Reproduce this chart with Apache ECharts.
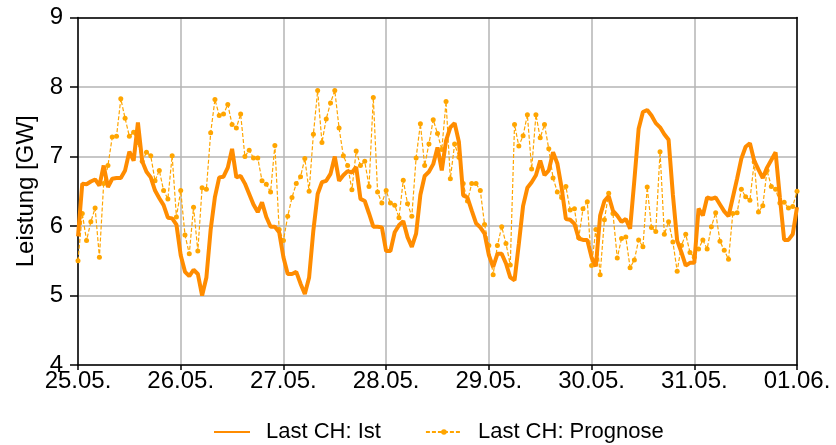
<!DOCTYPE html>
<html>
<head>
<meta charset="utf-8">
<script src="https://cdn.jsdelivr.net/npm/echarts@6/dist/echarts.min.js"></script>
<style>html,body{margin:0;padding:0;background:#fff}#c{width:836px;height:445px}</style>
</head>
<body>
<div id="c"></div>
<script>
const dayLabels = ['25.05.','26.05.','27.05.','28.05.','29.05.','30.05.','31.05.','01.06.'];
const yTicks = [4,5,6,7,8,9];
const istName = 'Last CH: Ist';
const progName = 'Last CH: Prognose';
// hourly values, 25.05. 00:00 .. 01.06. 00:00
const ist = [
5.85,6.61,6.60,6.64,6.67,6.58,6.87,6.56,6.68,6.69,6.69,6.80,7.07,6.94,7.49,6.93,6.78,6.70,6.51,6.40,6.30,6.12,6.11,6.02,
5.58,5.34,5.28,5.37,5.31,5.00,5.26,5.95,6.42,6.70,6.71,6.84,7.11,6.70,6.72,6.61,6.46,6.31,6.20,6.34,6.13,5.99,5.99,5.91,
5.55,5.31,5.31,5.34,5.17,5.02,5.26,5.94,6.46,6.63,6.65,6.75,7.00,6.65,6.73,6.79,6.77,6.85,6.39,6.36,6.18,5.99,5.99,5.98,
5.64,5.64,5.91,6.01,6.07,5.84,5.70,5.89,6.45,6.72,6.78,6.89,7.13,6.80,7.23,7.42,7.48,7.21,6.44,6.41,6.22,6.04,5.98,5.89,
5.58,5.41,5.60,5.60,5.46,5.26,5.22,5.74,6.29,6.55,6.63,6.73,6.94,6.73,6.80,7.06,6.90,6.55,6.10,6.09,6.03,5.82,5.80,5.80,
5.55,5.42,6.15,6.36,6.43,6.22,6.15,6.06,6.10,5.96,6.66,7.40,7.64,7.67,7.59,7.48,7.42,7.32,7.24,6.45,5.79,5.62,5.43,5.47,
5.47,6.25,6.15,6.41,6.39,6.41,6.31,6.21,6.14,6.41,6.68,6.97,7.14,7.19,6.94,6.81,6.69,6.84,6.95,7.06,6.41,5.80,5.80,5.88,
6.27];
const prognose = [
5.50,6.18,5.79,6.06,6.26,5.55,6.61,6.87,7.28,7.29,7.83,7.55,7.29,7.35,7.20,6.93,7.06,7.01,6.65,6.80,6.51,6.39,7.01,6.13,
6.51,5.87,5.60,6.27,5.64,6.55,6.53,7.34,7.82,7.59,7.61,7.75,7.46,7.41,7.61,7.00,7.09,6.98,6.98,6.65,6.60,6.49,7.16,5.95,
5.79,6.14,6.41,6.61,6.71,6.97,6.50,7.32,7.95,7.20,7.54,7.77,7.95,7.41,7.01,6.87,6.52,7.08,6.87,6.93,6.57,7.85,6.49,6.33,
6.51,6.33,6.30,6.12,6.66,6.32,6.14,6.98,7.47,6.87,7.18,7.53,7.33,7.10,7.79,6.68,7.18,6.99,6.61,6.36,6.61,6.61,6.51,6.02,
5.72,5.30,5.72,5.99,5.75,5.44,7.46,7.15,7.30,7.60,6.82,7.60,7.27,7.46,7.11,6.69,6.49,6.41,6.57,6.23,6.25,5.83,6.25,6.35,
5.43,5.95,5.30,6.09,6.47,6.18,5.54,5.82,5.84,5.40,5.51,5.80,5.70,6.56,5.98,5.92,7.07,5.88,6.06,5.77,5.35,5.72,5.88,5.62,
5.55,5.67,5.80,5.67,5.99,6.19,5.78,5.65,5.52,6.18,6.19,6.53,6.42,6.37,6.92,6.20,6.29,6.80,6.57,6.53,6.33,6.34,6.26,6.28,
6.50];

const toPairs = arr => arr.map((v, i) => [i, v]);
const font = 'Liberation Sans, Arial, sans-serif';
const chart = echarts.init(document.getElementById('c'), null, {renderer: 'canvas'});
chart.setOption({
  animation: false,
  backgroundColor: '#fff',
  grid: {left: 78, right: 39, top: 17.5, bottom: 80},
  xAxis: [{
    type: 'value', min: 0, max: (dayLabels.length - 1) * 24, interval: 24,
    axisLine: {show: true, lineStyle: {color: '#000', width: 1.5}},
    axisTick: {show: true, length: 5, lineStyle: {color: '#000', width: 1.5}},
    axisLabel: {color: '#000', fontSize: 24, fontFamily: font, margin: 4,
      formatter: v => dayLabels[Math.round(v / 24)] || ''},
    splitLine: {show: true, lineStyle: {color: '#b4b4b4', width: 1.5}}
  }, {
    type: 'value', position: 'top', min: 0, max: 168,
    axisLine: {show: true, onZero: false, lineStyle: {color: '#000', width: 1.5}},
    axisTick: {show: false}, axisLabel: {show: false}, splitLine: {show: false}
  }],
  yAxis: [{
    type: 'value', min: yTicks[0], max: yTicks[yTicks.length - 1], interval: 1,
    name: 'Leistung [GW]', nameLocation: 'middle', nameGap: 40,
    nameTextStyle: {color: '#000', fontSize: 24, fontFamily: font},
    axisLine: {show: true, lineStyle: {color: '#000', width: 1.5}},
    axisTick: {show: true, length: 8, lineStyle: {color: '#000', width: 1.5}},
    axisLabel: {color: '#000', fontSize: 24, fontFamily: font, margin: 15},
    splitLine: {show: true, lineStyle: {color: '#b4b4b4', width: 1.5}}
  }, {
    type: 'value', position: 'right', min: 4, max: 9,
    axisLine: {show: true, onZero: false, lineStyle: {color: '#000', width: 1.5}},
    axisTick: {show: false}, axisLabel: {show: false}, splitLine: {show: false}
  }],
  legend: {
    top: 416, left: 208, itemGap: 44, itemWidth: 36, itemHeight: 7,
    data: [{name: istName, itemStyle: {opacity: 0}}, {name: progName}],
    textStyle: {color: '#000', fontSize: 22, fontFamily: font, padding: [0, 0, 0, 11]}
  },
  series: [{
    name: progName, type: 'line', data: toPairs(prognose),
    symbol: 'circle', symbolSize: 5, showAllSymbol: true,
    itemStyle: {color: '#FFA500'},
    lineStyle: {color: '#FFA500', width: 1.2, type: [4, 2]},
    z: 2
  }, {
    name: istName, type: 'line', data: toPairs(ist),
    symbol: 'none', showSymbol: false,
    itemStyle: {color: '#FF8C00'},
    lineStyle: {color: '#FF8C00', width: 4},
    z: 3
  }]
});
</script>
</body>
</html>
